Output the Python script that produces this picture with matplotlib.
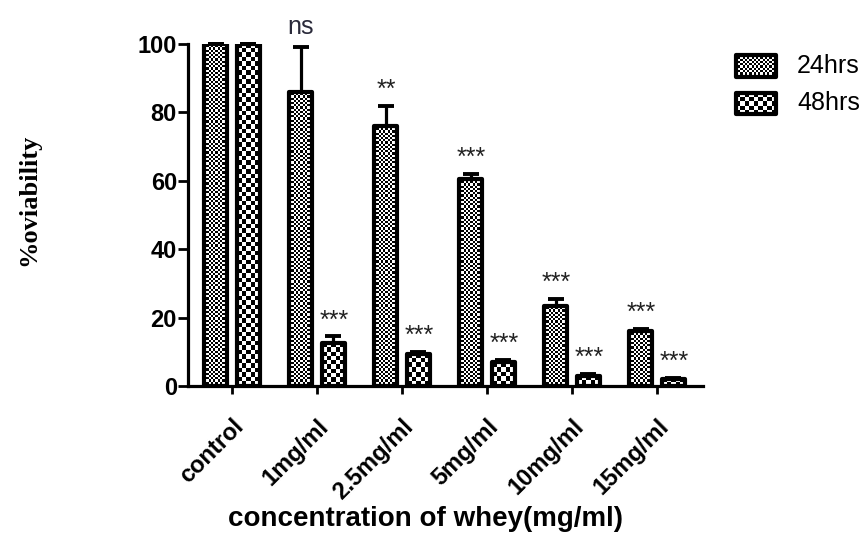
import matplotlib
matplotlib.use("Agg")
import matplotlib.pyplot as plt
from matplotlib.patches import Rectangle
import numpy as np

plt.rcParams["font.family"] = ["Liberation Sans", "DejaVu Sans"]

# ---- data ----
categories = ["control", "1mg/ml", "2.5mg/ml", "5mg/ml", "10mg/ml", "15mg/ml"]
viab_24h = [100, 86, 76, 60.5, 23.5, 16]
err_24h = [0, 13, 6, 1.5, 2, 0.8]
viab_48h = [100, 12.5, 9.5, 7, 3, 2]
err_48h = [0, 2, 0.5, 0.5, 0.6, 0.4]
sig_24h = ["", "ns", "**", "***", "***", "***"]
sig_48h = ["", "***", "***", "***", "***", "***"]
series_names = ["24hrs", "48hrs"]

FINE, COARSE = 2.2, 4.5   # checker cell size in pixels


def checker_fill(ax, patch, cell_px):
    """Fill a rectangle patch with a black/white checkerboard clipped to it."""
    x0, y0 = patch.get_x(), patch.get_y()
    w, h = patch.get_width(), patch.get_height()
    (px0, py0), (px1, py1) = ax.transData.transform([(x0, y0), (x0 + w, y0 + h)])
    nx = max(1, int(round(abs(px1 - px0) / cell_px)))
    ny = max(1, int(round(abs(py1 - py0) / cell_px)))
    grid = np.add.outer(np.arange(ny), np.arange(nx)) % 2
    im = ax.imshow(grid, cmap="gray", vmin=0, vmax=1, extent=(x0, x0 + w, y0, y0 + h),
                   interpolation="nearest", aspect="auto", zorder=1)
    im.set_clip_path(patch)


fig = plt.figure(figsize=(8.67, 5.38), dpi=100, facecolor="white")
ax = fig.add_axes([188 / 867, 1 - 386 / 538, 515 / 867, 342 / 538])
XLIM, YLIM = (-0.518, 5.54), (0, 100)
ax.set_xlim(*XLIM)
ax.set_ylim(*YLIM)

x = np.arange(len(categories))
off, bw = 0.19, 0.27
LW = 3.0

bars24 = ax.bar(x - off, viab_24h, bw, facecolor="none", edgecolor="black", linewidth=LW, zorder=2)
bars48 = ax.bar(x + off, viab_48h, bw, facecolor="none", edgecolor="black", linewidth=LW, zorder=2)
for b in list(bars24) + list(bars48):
    b.set_joinstyle("round")
for b in bars24:
    checker_fill(ax, b, FINE)
for b in bars48:
    checker_fill(ax, b, COARSE)

for xs, vals, errs in [(x - off, viab_24h, err_24h), (x + off, viab_48h, err_48h)]:
    ax.errorbar(xs, vals, yerr=[np.zeros(len(errs)), errs], fmt="none", ecolor="black",
                elinewidth=2.3, capsize=6, capthick=2.8, zorder=3, clip_on=False)

# significance marks
for xs, vals, errs, sigs in [(x - off, viab_24h, err_24h, sig_24h), (x + off, viab_48h, err_48h, sig_48h)]:
    for xi, v, e, s in zip(xs, vals, errs, sigs):
        if not s:
            continue
        if s == "ns":
            ax.annotate(s, (xi, v + e), xytext=(0, 9.5), textcoords="offset points",
                        ha="center", va="baseline", fontsize=18, color="#2a2a3a",
                        annotation_clip=False)
        else:
            ax.annotate(s, (xi, v + e), xytext=(0.5, 6.5), textcoords="offset points",
                        ha="center", va="baseline", fontsize=18, color="#222222",
                        annotation_clip=False)

ax.set_xlim(*XLIM)
ax.set_ylim(*YLIM)

for side in ["top", "right"]:
    ax.spines[side].set_visible(False)
for side in ["left", "bottom"]:
    ax.spines[side].set_linewidth(2.3)

ax.set_yticks(np.arange(0, 101, 20))
ax.set_xticks(x)
ax.set_xticklabels(categories, rotation=45, ha="right", rotation_mode="anchor",
                   fontsize=17, fontweight="bold")
ax.tick_params(axis="y", length=7, width=2.0, labelsize=17, pad=1)
ax.tick_params(axis="x", length=6, width=2.0, pad=15)
for lab in ax.get_yticklabels():
    lab.set_fontweight("bold")

fig.text(426 / 867, 1 - 519 / 538, "concentration of whey(mg/ml)", ha="center", va="center",
         fontsize=20, fontweight="bold")
fig.text(29 / 867, 1 - 200 / 538, "%oviability", rotation=90, ha="center", va="center",
         fontsize=19, fontweight="bold", family=["Liberation Serif", "DejaVu Serif"])

# legend drawn by hand
for (top, bot), name, cell in zip([(55, 77), (93, 114)], series_names, [FINE, COARSE]):
    lax = fig.add_axes([736 / 867, 1 - bot / 538, 40 / 867, (bot - top) / 538])
    lax.set_xlim(0, 1)
    lax.set_ylim(0, 1)
    lax.axis("off")
    r = Rectangle((0, 0), 1, 1, facecolor="none", edgecolor="black", linewidth=LW,
                  joinstyle="round", zorder=2, clip_on=False)
    lax.add_patch(r)
    checker_fill(lax, r, cell)
    lax.set_xlim(0, 1)
    lax.set_ylim(0, 1)
    fig.text(797 / 867, 1 - (top + bot) / 2 / 538, name, ha="left", va="center", fontsize=18)

fig.savefig("out.png", dpi=100, facecolor="white")
